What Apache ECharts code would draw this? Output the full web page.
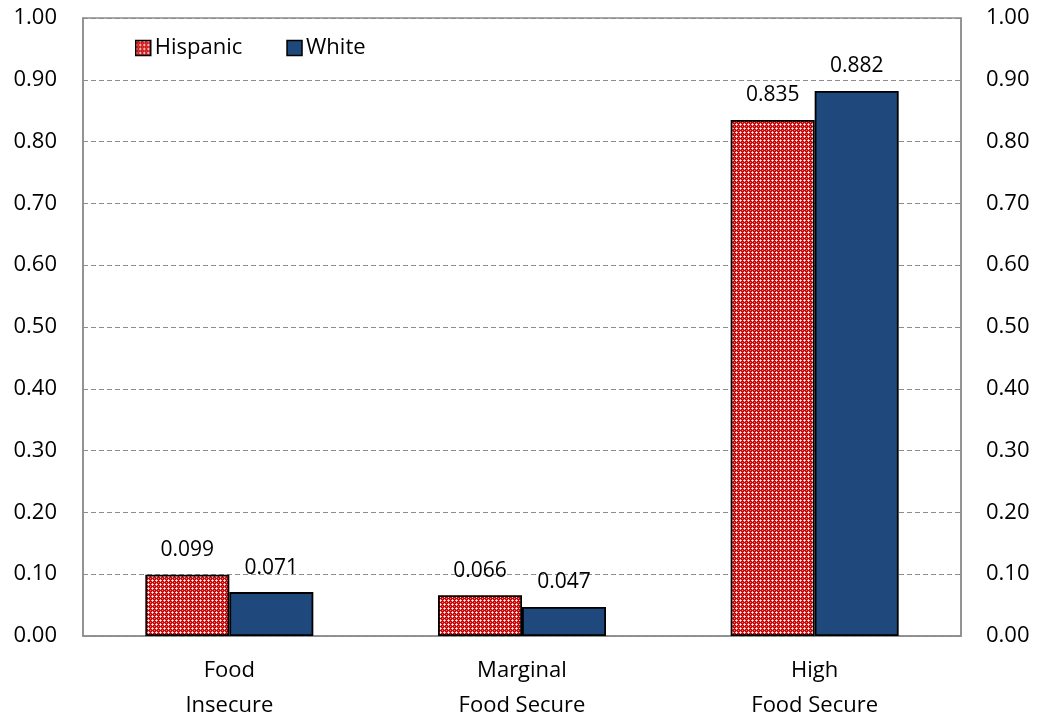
<!DOCTYPE html>
<html>
<head>
<meta charset="utf-8">
<script src="https://cdn.jsdelivr.net/npm/echarts@6/dist/echarts.min.js"></script>
<style>
  html, body { margin: 0; padding: 0; background: #fff; }
  #chart { width: 1041px; height: 723px; }
</style>
</head>
<body>
<div id="chart"></div>
<script>
// Share of households by food security status
const categories = ['Food\nInsecure', 'Marginal\nFood Secure', 'High\nFood Secure'];
const hispanic = [0.099, 0.066, 0.835];
const white = [0.071, 0.047, 0.882];
const yTicks = { min: 0, max: 1, interval: 0.1 };

// Red cross-hatch fill for the Hispanic bars: red crosses separated by pale pink dots
function makePattern() {
  const c = document.createElement('canvas');
  c.width = 4; c.height = 4;
  const g = c.getContext('2d');
  g.fillStyle = '#c80808';
  g.fillRect(0, 0, 4, 4);
  g.fillStyle = '#f4b4b4';
  g.fillRect(1, 0, 1, 1);
  g.fillRect(0, 1, 1, 1);
  g.fillRect(3, 0, 1, 1);
  g.fillRect(0, 3, 1, 1);
  g.fillStyle = '#ffffff';
  g.fillRect(0, 0, 1, 1);
  g.fillStyle = '#e47a7a';
  g.fillRect(2, 2, 1, 1);
  return c;
}
const hatch = { image: makePattern(), repeat: 'repeat' };

const font = 'Open Sans, Liberation Sans, sans-serif';
const chart = echarts.init(document.getElementById('chart'), null, { renderer: 'canvas' });

const valueLabel = {
  show: true,
  position: 'top',
  distance: 14,
  color: '#000',
  fontSize: 21,
  fontFamily: font,
  formatter: p => p.value.toFixed(3)
};

chart.setOption({
  animation: false,
  backgroundColor: '#fff',
  grid: {
    left: 83, right: 80, top: 18, bottom: 85,
    show: true, borderColor: '#8c8c8c', borderWidth: 1.5, backgroundColor: 'transparent'
  },
  legend: {
    left: 130, top: 32,
    icon: 'rect',
    itemWidth: 15, itemHeight: 15, itemGap: 44,
    itemStyle: { borderColor: '#000', borderWidth: 1.5 },
    textStyle: { fontSize: 22, fontFamily: font, color: '#000', padding: [0, 0, 0, -1] },
    data: ['Hispanic', 'White']
  },
  xAxis: {
    type: 'category',
    data: categories,
    axisLine: { lineStyle: { color: '#8c8c8c', width: 1.5 } },
    axisTick: { show: false },
    axisLabel: { fontSize: 22, fontFamily: font, color: '#000', lineHeight: 35, margin: 17 }
  },
  yAxis: [
    {
      type: 'value', min: yTicks.min, max: yTicks.max, interval: yTicks.interval,
      axisLine: { show: true, lineStyle: { color: '#8c8c8c', width: 1.5 } },
      axisTick: { show: false },
      splitLine: { lineStyle: { color: '#8c8c8c', type: [5, 3], width: 1 } },
      axisLabel: { fontSize: 22, fontFamily: font, color: '#000', margin: 26, formatter: v => v.toFixed(2) }
    },
    {
      type: 'value', min: yTicks.min, max: yTicks.max, interval: yTicks.interval,
      position: 'right',
      axisLine: { show: true, lineStyle: { color: '#8c8c8c', width: 1.5 } },
      axisTick: { show: false },
      splitLine: { show: false },
      axisLabel: { fontSize: 22, fontFamily: font, color: '#000', margin: 25, formatter: v => v.toFixed(2) }
    }
  ],
  series: [
    {
      name: 'Hispanic', type: 'bar', data: hispanic,
      barWidth: 84, barGap: '0%',
      itemStyle: { color: hatch, borderColor: '#000', borderWidth: 1.8 },
      label: valueLabel
    },
    {
      name: 'White', type: 'bar', data: white,
      barWidth: 84,
      itemStyle: { color: '#1f497d', borderColor: '#000', borderWidth: 1.8 },
      label: valueLabel
    }
  ]
});
</script>
</body>
</html>
